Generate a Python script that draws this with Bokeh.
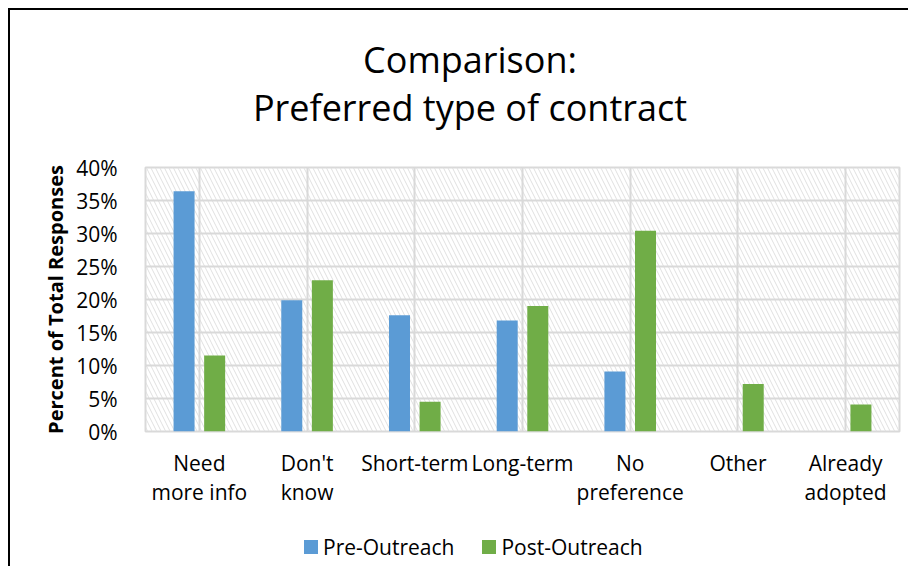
from bokeh.plotting import figure
from bokeh.layouts import column
from bokeh.models import (ColumnDataSource, FactorRange, Range1d, FixedTicker,
                          PrintfTickFormatter, BoxAnnotation, Div)
from bokeh.transform import dodge
from bokeh.embed import file_html
from bokeh.resources import INLINE

title_lines = ["Comparison:", "Preferred type of contract"]
categories = ["Need\nmore info", "Don't\nknow", "Short-term", "Long-term",
              "No\npreference", "Other", "Already\nadopted"]
series_names = ["Pre-Outreach", "Post-Outreach"]
pre_outreach = [36.4, 19.9, 17.6, 16.8, 9.1, 0.0, 0.0]
post_outreach = [11.5, 22.9, 4.5, 19.0, 30.4, 7.2, 4.1]
y_ticks = [0, 5, 10, 15, 20, 25, 30, 35, 40]

FONT = "Open Sans"
COLORS = ["#5b9bd5", "#70ad47"]

src = ColumnDataSource(dict(cat=categories, pre=pre_outreach, post=post_outreach))

p = figure(x_range=FactorRange(*categories), y_range=Range1d(0, 40),
           frame_width=754, frame_height=264,
           min_border_left=135, min_border_right=9, min_border_top=32, min_border_bottom=95,
           output_backend="svg", toolbar_location=None, tools="", margin=0)

bg = BoxAnnotation(fill_alpha=0, hatch_pattern="\\", hatch_color="#e0e0e0",
                   hatch_scale=9, hatch_weight=1, line_color=None, level="image")
p.add_layout(bg)

p.vbar(x=dodge("cat", -0.142, range=p.x_range), top="pre", width=0.195,
       source=src, fill_color=COLORS[0], line_color=None)
p.vbar(x=dodge("cat", 0.142, range=p.x_range), top="post", width=0.195,
       source=src, fill_color=COLORS[1], line_color=None)

p.outline_line_color = "#d9d9d9"
p.outline_line_width = 2
p.xgrid.grid_line_color = "#d9d9d9"
p.xgrid.grid_line_width = 2
p.ygrid.grid_line_color = "#d9d9d9"
p.ygrid.grid_line_width = 2
p.ygrid.ticker = FixedTicker(ticks=y_ticks)

p.yaxis.ticker = FixedTicker(ticks=y_ticks)
p.yaxis.formatter = PrintfTickFormatter(format="%d%%")
p.yaxis.axis_label = "Percent of Total Responses"
p.yaxis.axis_label_text_font = FONT
p.yaxis.axis_label_text_font_style = "bold"
p.yaxis.axis_label_text_font_size = "20px"
p.yaxis.axis_label_text_color = "#000000"
p.yaxis.axis_label_standoff = 4

for ax in (p.xaxis, p.yaxis):
    ax.axis_line_color = None
    ax.major_tick_line_color = None
    ax.minor_tick_line_color = None
    ax.major_label_text_font = FONT
    ax.major_label_text_font_size = "21px"
    ax.major_label_text_color = "#000000"
p.yaxis.major_label_standoff = 22
p.xaxis.major_label_standoff = 11
p.xaxis.major_label_text_line_height = 1.07

title_html = ('<div style="width:920px;text-align:center;font-family:\'Open Sans\';'
              'font-size:36px;line-height:48px;color:#000;padding-top:26px;">'
              + "<br>".join(title_lines) + "</div>")
title_div = Div(text=title_html, width=898, height=125, margin=0)

swatch = ('<span style="display:inline-block;width:14px;height:14px;background:{c};'
          'vertical-align:middle;margin-left:{ml}px;margin-right:5px;"></span>'
          '<span style="vertical-align:middle;">{t}</span>')
legend_items = "".join(swatch.format(c=c, t=t, ml=(0 if i == 0 else 28))
                       for i, (c, t) in enumerate(zip(COLORS, series_names)))
legend_html = ('<div style="font-family:\'Open Sans\';font-size:21px;line-height:38px;'
               'color:#000;white-space:nowrap;padding-left:294px;">' + legend_items + '</div>')
legend_div = Div(text=legend_html, width=898, height=40, margin=0)

layout = column(title_div, p, legend_div, spacing=0, margin=0)
layout.styles = {"border-left": "2px solid black", "border-top": "2px solid black",
                 "margin-left": "8px", "margin-top": "8px"}

open("out.html", "w").write(file_html(layout, INLINE))
